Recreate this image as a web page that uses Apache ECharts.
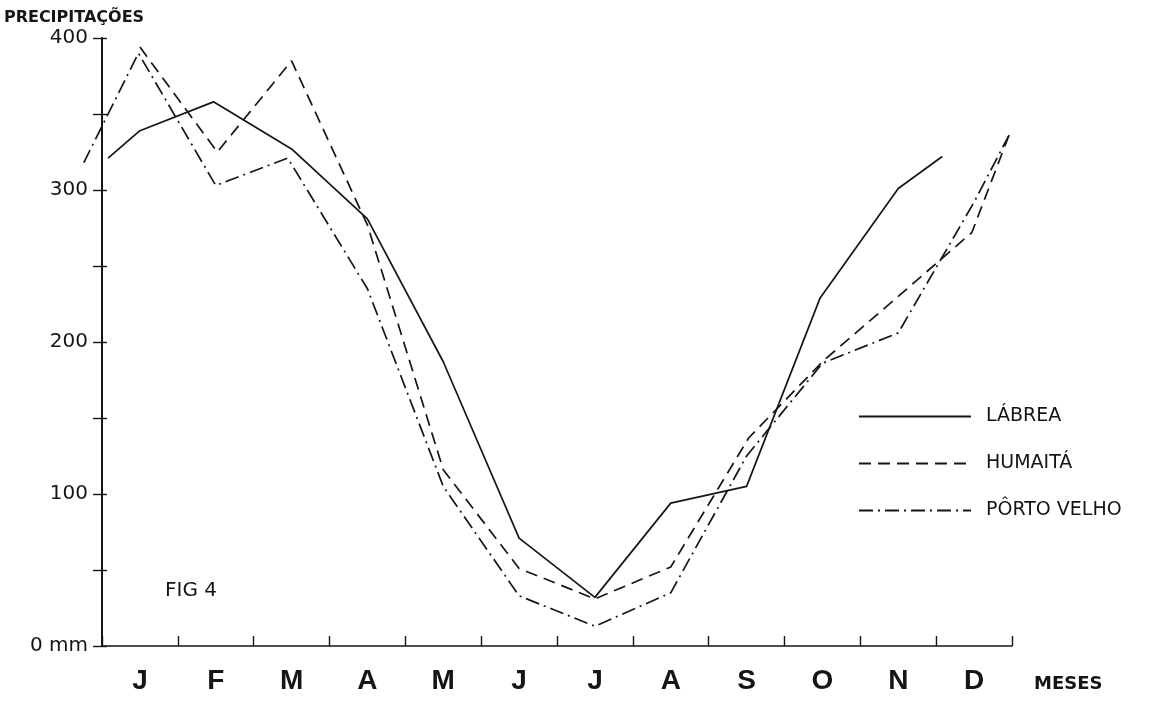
<!DOCTYPE html>
<html>
<head>
<meta charset="utf-8">
<script src="https://cdn.jsdelivr.net/npm/echarts@6/dist/echarts.min.js"></script>
<style>
html,body{margin:0;padding:0;background:#fff;}
#chart{width:1163px;height:701px;}
</style>
</head>
<body>
<div id="chart"></div>
<script>
// Month category labels
var months = ['J','F','M','A','M','J','J','A','S','O','N','D'];
// y tick labels
var yTickValues = [0, 100, 200, 300, 400];
var yTickLabels = ['0 mm', '100', '200', '300', '400'];

// Series: positions in months along the axis (month centre = index + 0.5) and precipitation (mm)
var labreaX = [0.08, 0.5, 1.47, 2.5, 3.5, 4.5, 5.5, 6.5, 7.5, 8.5, 9.47, 10.5, 11.08];
var labreaY = [321, 339, 358, 327, 281, 187, 71, 32, 94, 105, 229, 301, 322];

var humaitaX = [0.5, 1.52, 2.5, 3.5, 4.5, 5.5, 6.5, 7.5, 8.53, 9.52, 10.5, 11.47, 11.96];
var humaitaY = [394, 325, 385, 277, 116, 51, 31, 52, 137, 188, 230, 272, 336];

var portoX = [-0.24, 0.48, 1.5, 2.45, 3.5, 4.5, 5.5, 6.5, 7.5, 8.5, 9.5, 10.5, 11.5, 11.96];
var portoY = [318, 390, 303, 321, 235, 105, 33, 13, 35, 125, 186, 206, 292, 336];

function pairs(xs, ys) {
  return xs.map(function (x, i) { return [x, ys[i]]; });
}

var ink = '#151515';
var chart = echarts.init(document.getElementById('chart'), null, {renderer: 'canvas'});

// plot area: x from 102 to 1012 px (12 months), y from 38 (400 mm) to 646 (0 mm)
var monthPx = (1012 - 102) / 12;
var xPad = 0.5; // extra months shown left of the axis for the data layer

chart.setOption({
  backgroundColor: '#ffffff',
  animation: false,
  title: [{
    text: 'FIG 4',
    left: 160, top: 576,
    textStyle: {fontFamily: 'DejaVu Sans', fontSize: 20, fontWeight: 'normal', color: ink}
  }],
  legend: {
    orient: 'vertical',
    left: 858, top: 407, padding: 0,
    itemWidth: 112, itemHeight: 20, itemGap: 28,
    data: ['LÁBREA', 'HUMAITÁ', 'PÔRTO VELHO'],
    itemStyle: {opacity: 0},
    textStyle: {fontFamily: 'DejaVu Sans', fontSize: 19, color: ink, padding: [0, 0, 0, 10]}
  },
  grid: [
    {left: 102, right: 151, top: 38, bottom: 55, containLabel: false},
    {left: 102 - xPad * monthPx, right: 151, top: 38, bottom: 55, containLabel: false}
  ],
  xAxis: [{
    type: 'category',
    gridIndex: 0,
    data: months,
    boundaryGap: true,
    name: 'MESES',
    nameLocation: 'end',
    nameGap: 22,
    nameTextStyle: {fontFamily: 'DejaVu Sans', fontSize: 18, fontWeight: 'bold', color: ink, verticalAlign: 'top', padding: [29, 0, 0, 0]},
    axisLine: {show: true, lineStyle: {color: ink, width: 1.6}},
    axisTick: {show: true, inside: true, length: 10, alignWithLabel: false, interval: 0, lineStyle: {color: ink, width: 1.4}},
    axisLabel: {margin: 21, interval: 0, fontFamily: 'Liberation Sans', fontWeight: 'bold', fontSize: 28, color: ink},
    splitLine: {show: false}
  }, {
    type: 'value',
    gridIndex: 1,
    min: -xPad, max: 12,
    show: false
  }],
  yAxis: [{
    type: 'value',
    gridIndex: 0,
    position: 'left',
    min: 0, max: 400, interval: 50,
    name: 'PRECIPITAÇÕES',
    nameLocation: 'end',
    nameGap: 12,
    nameTextStyle: {fontFamily: 'DejaVu Sans', fontSize: 16, fontWeight: 'bold', color: ink, align: 'center', padding: [0, 56, 0, 0]},
    axisLine: {show: true, lineStyle: {color: ink, width: 2}},
    axisTick: {show: true, inside: false, length: 9, lineStyle: {color: ink, width: 1.4}},
    axisLabel: {
      margin: 14,
      fontFamily: 'DejaVu Sans', fontSize: 20, color: ink,
      formatter: function (v) {
        var i = yTickValues.indexOf(v);
        return i >= 0 ? yTickLabels[i] : '';
      }
    },
    splitLine: {show: false}
  }, {
    type: 'value',
    gridIndex: 0,
    position: 'left',
    min: 0, max: 400, interval: 50,
    axisLine: {show: false},
    axisTick: {show: true, inside: true, length: 5, lineStyle: {color: ink, width: 1.4}},
    axisLabel: {show: false},
    splitLine: {show: false}
  }, {
    type: 'value',
    gridIndex: 1,
    min: 0, max: 400,
    show: false
  }],
  series: [{
    name: 'LÁBREA',
    type: 'line',
    xAxisIndex: 1, yAxisIndex: 2,
    data: pairs(labreaX, labreaY),
    symbol: 'none', showSymbol: false, clip: false,
    lineStyle: {color: ink, width: 1.7, type: 'solid'},
    itemStyle: {color: ink}
  }, {
    name: 'HUMAITÁ',
    type: 'line',
    xAxisIndex: 1, yAxisIndex: 2,
    data: pairs(humaitaX, humaitaY),
    symbol: 'none', showSymbol: false, clip: false,
    lineStyle: {color: ink, width: 1.7, type: [12, 7]},
    itemStyle: {color: ink}
  }, {
    name: 'PÔRTO VELHO',
    type: 'line',
    xAxisIndex: 1, yAxisIndex: 2,
    data: pairs(portoX, portoY),
    symbol: 'none', showSymbol: false, clip: false,
    lineStyle: {color: ink, width: 1.7, type: [14, 5, 2, 5]},
    itemStyle: {color: ink}
  }]
});
</script>
</body>
</html>
